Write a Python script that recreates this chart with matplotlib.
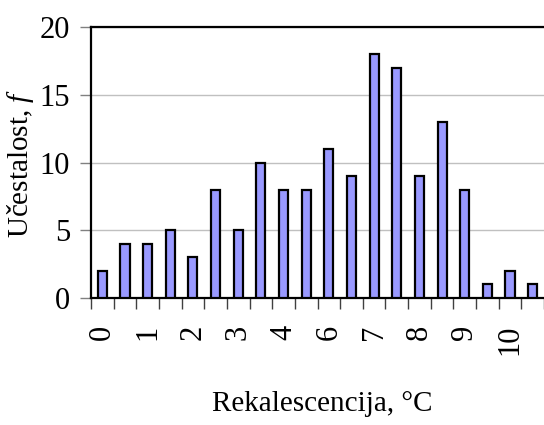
import matplotlib.pyplot as plt
import numpy as np

# frequencies per bin (20 bins), labels shown on every other bin
freq = [2, 4, 4, 5, 3, 8, 5, 10, 8, 8, 11, 9, 18, 17, 9, 13, 8, 1, 2, 1]
label_pos = [0, 2, 4, 6, 8, 10, 12, 14, 16, 18]
label_txt = ['0', '1', '2', '3', '4', '6', '7', '8', '9', '10']
y_ticks = [0, 5, 10, 15, 20]

plt.rcParams['font.family'] = ['Liberation Serif', 'DejaVu Serif']
plt.rcParams['mathtext.fontset'] = 'custom'
plt.rcParams['mathtext.it'] = 'Liberation Serif:italic'
plt.rcParams['mathtext.rm'] = 'Liberation Serif'

fig = plt.figure(figsize=(5.44, 4.25), dpi=100)
ax = fig.add_axes([91 / 544, 1 - 298 / 425, 1 - 91 / 544, (298 - 27) / 425])

x = np.arange(len(freq))
ax.bar(x, freq, width=0.4, color='#9999FF', edgecolor='black', linewidth=1.6, zorder=3)

ax.set_xlim(-0.5, len(freq) - 0.5)
ax.set_ylim(0, 20)
ax.set_yticks(y_ticks)
ax.yaxis.grid(True, color='#C0C0C0', linewidth=1, zorder=0)

ax.set_xticks(label_pos)
ax.set_xticklabels(label_txt, rotation=90, fontsize=22)
ax.set_xticks(np.arange(-0.5, len(freq)), minor=True)
ax.tick_params(axis='x', which='major', length=0, pad=19)
ax.tick_params(axis='x', which='minor', length=8, color='#404040', width=1)
ax.tick_params(axis='y', length=8, color='#808080', width=1, labelsize=22, pad=7)

for s in ['left', 'bottom', 'top']:
    ax.spines[s].set_linewidth(1.6)
    ax.spines[s].set_color('black')
ax.spines['right'].set_visible(False)

fig.text(21 / 544, 1 - 163 / 425, 'Učestalost, $\\mathit{f}$', rotation=90,
         ha='center', va='center', fontsize=21)
fig.text(322 / 544, 1 - 404 / 425, 'Rekalescencija, °C', ha='center', va='center', fontsize=21)

fig.savefig('out.png', dpi=100)
